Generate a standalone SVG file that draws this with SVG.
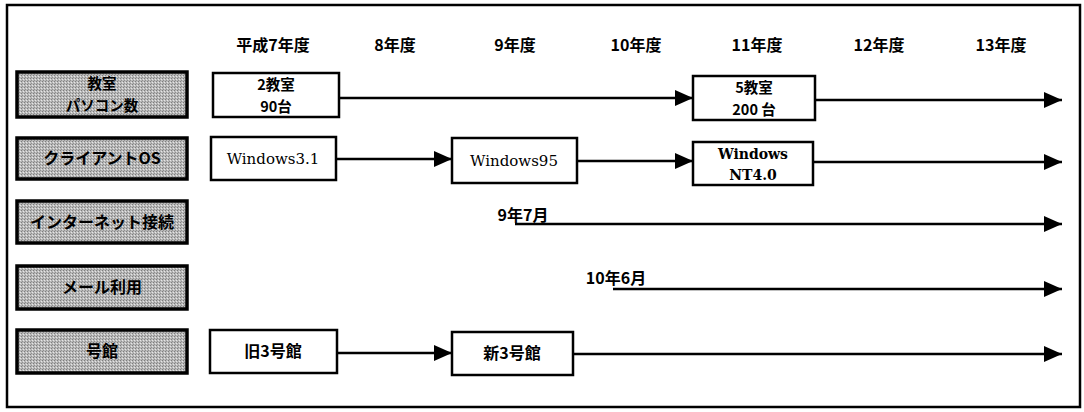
<svg xmlns="http://www.w3.org/2000/svg" width="1084" height="412" viewBox="0 0 1084 412">
<defs>
<pattern id="dots" width="3" height="3" patternUnits="userSpaceOnUse">
<rect width="3" height="3" fill="#b9b9b9"/>
<rect x="0" y="0" width="1" height="1" fill="#7e7e7e"/>
<rect x="2" y="1" width="1" height="1" fill="#e6e6e6"/>
<rect x="1" y="2" width="1" height="1" fill="#909090"/>
</pattern>
<marker id="ah" viewBox="0 0 18 16" refX="18" refY="8" markerWidth="18" markerHeight="16" markerUnits="userSpaceOnUse" orient="auto">
<path d="M0,0 L18,8 L0,16 z" fill="#000"/>
</marker>
</defs>
<style>
.lab{fill:url(#dots);stroke:#000;stroke-width:3.5}
.box{fill:#fff;stroke:#000;stroke-width:2.5}
.jt{font-family:"Noto Sans CJK JP","Noto Sans",sans-serif;font-weight:bold;font-size:16px;fill:#000;text-anchor:middle}
.j2{font-family:"Noto Sans CJK JP","Noto Sans",sans-serif;font-weight:bold;font-size:14.5px;fill:#000;text-anchor:middle}
.hd{font-family:"Noto Sans CJK JP","Noto Sans",sans-serif;font-weight:bold;font-size:16px;fill:#000;text-anchor:middle}
.wt{font-family:"DejaVu Serif","Liberation Serif",serif;font-size:15px;fill:#000;text-anchor:middle}
.w2{font-family:"DejaVu Serif","Liberation Serif",serif;font-size:14px;font-weight:bold;fill:#000;text-anchor:middle}
.conn line{stroke:#000;stroke-width:2.5;marker-end:url(#ah)}
</style>
<rect x="7" y="5" width="1073" height="402" fill="#fff" stroke="#000" stroke-width="2.5"/>

<g id="headers">
<text class="hd" x="273" y="51">平成7年度</text>
<text class="hd" x="395" y="51">8年度</text>
<text class="hd" x="515" y="51">9年度</text>
<text class="hd" x="636" y="51">10年度</text>
<text class="hd" x="757" y="51">11年度</text>
<text class="hd" x="879" y="51">12年度</text>
<text class="hd" x="1001" y="51">13年度</text>
</g>

<g id="label-pc">
<rect class="lab" x="17" y="72" width="170" height="45"/>
<text class="j2" x="102" y="89">教室</text>
<text class="j2" x="102" y="111">パソコン数</text>
</g>
<g id="label-os">
<rect class="lab" x="17" y="138" width="170" height="41"/>
<text class="jt" x="102" y="164">クライアントOS</text>
</g>
<g id="label-net">
<rect class="lab" x="17" y="201" width="170" height="42"/>
<text class="jt" x="102" y="228">インターネット接続</text>
</g>
<g id="label-mail">
<rect class="lab" x="17" y="266" width="170" height="43"/>
<text class="jt" x="102" y="293">メール利用</text>
</g>
<g id="label-bldg">
<rect class="lab" x="17" y="330" width="170" height="43"/>
<text class="jt" x="102" y="357">号館</text>
</g>

<g id="n-2room">
<rect class="box" x="213" y="73" width="126" height="44"/>
<text class="j2" x="276" y="90">2教室</text>
<text class="j2" x="276" y="112">90台</text>
</g>
<g id="n-5room">
<rect class="box" x="693" y="76" width="122" height="44"/>
<text class="j2" x="754" y="93">5教室</text>
<text class="j2" x="754" y="115">200 台</text>
</g>
<g id="n-win31">
<rect class="box" x="211" y="137" width="125" height="43"/>
<text class="wt" x="273" y="164">Windows3.1</text>
</g>
<g id="n-win95">
<rect class="box" x="452" y="138" width="125" height="45"/>
<text class="wt" x="514" y="166">Windows95</text>
</g>
<g id="n-nt4">
<rect class="box" x="693" y="142" width="120" height="43"/>
<text class="w2" x="753" y="159">Windows</text>
<text class="w2" x="753" y="180">NT4.0</text>
</g>
<g id="n-old3">
<rect class="box" x="210" y="330" width="127" height="43"/>
<text class="jt" x="273" y="357">旧3号館</text>
</g>
<g id="n-new3">
<rect class="box" x="452" y="332" width="121" height="43"/>
<text class="jt" x="512" y="359">新3号館</text>
</g>

<g id="n-net-date">
<text class="jt" x="523" y="221">9年7月</text>
</g>
<g id="n-mail-date">
<text class="jt" x="616" y="284">10年6月</text>
</g>

<g class="conn" id="connectors">
<line x1="339" y1="98" x2="693" y2="98"/>
<line x1="815" y1="100" x2="1062" y2="100"/>
<line x1="336" y1="159" x2="452" y2="159"/>
<line x1="577" y1="161" x2="693" y2="161"/>
<line x1="813" y1="162" x2="1062" y2="162"/>
<line x1="515" y1="224" x2="1062" y2="224"/>
<line x1="613" y1="289" x2="1062" y2="289"/>
<line x1="337" y1="353" x2="452" y2="353"/>
<line x1="573" y1="354" x2="1062" y2="354"/>
</g>
</svg>
